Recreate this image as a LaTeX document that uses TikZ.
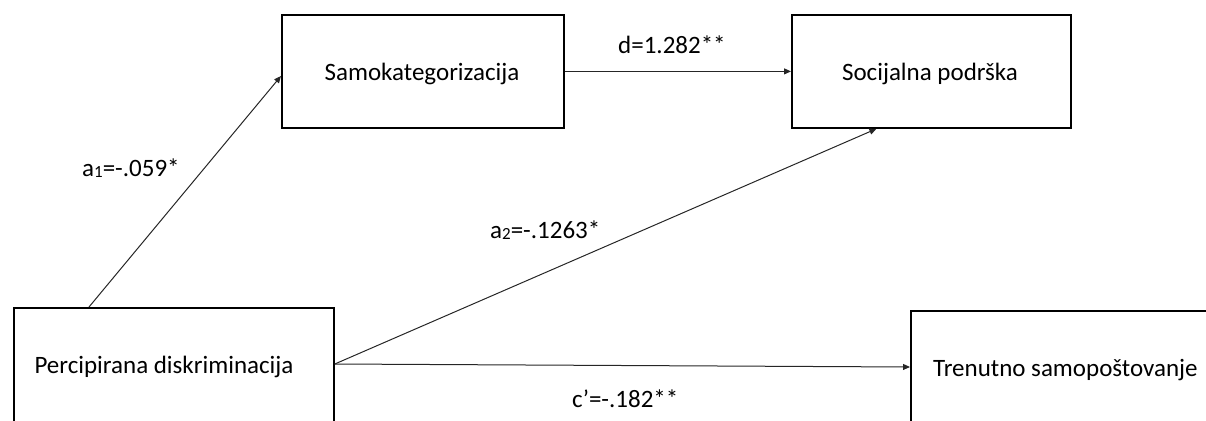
\documentclass[tikz,border=0pt]{standalone}
\usepackage{fontspec}
\setmainfont{Carlito}
\usetikzlibrary{arrows.meta,calc}
\begin{document}
\begin{tikzpicture}[x=1pt,y=-1pt,
  box/.style={draw=black, line width=1.8pt, rectangle, inner sep=0pt},
  txt/.style={anchor=base, inner sep=0pt, font=\fontsize{25}{30}\selectfont},
  lbl/.style={anchor=base west, inner sep=0pt, font=\fontsize{25}{30}\selectfont},
  conn/.style={draw=black!85, line width=1pt, -{Triangle[length=7pt,width=6pt]}}]
\useasboundingbox (0,0) rectangle (1206,420);
% boxes
\node[box, minimum width=282pt, minimum height=113pt, anchor=north west] (samok) at (281,14) {};
\node[box, minimum width=279pt, minimum height=113pt, anchor=north west] (soc) at (791,14) {};
\node[box, minimum width=320pt, minimum height=123pt, anchor=north west] (perc) at (13,307) {};
\node[box, minimum width=330pt, minimum height=120pt, anchor=north west] (trenut) at (910,310) {};
% box texts
\node[txt] (samokT) at (422,80) {Samokategorizacija};
\node[txt] (socT) at (930,80) {Socijalna podrška};
\node[txt] (percT) at (164,373) {Percipirana diskriminacija};
\node[txt, anchor=base west] (trenutT) at (933,376) {Trenutno samopoštovanje};
% connector labels
\newcommand{\mysub}[1]{\raisebox{-1.5pt}{\fontsize{17}{17}\selectfont #1}}
\node[lbl] (la1) at (82,176) {a\mysub{1}=-.059*};
\node[lbl] (ld) at (618,53) {d=1.282**};
\node[lbl] (la2) at (490,238) {a\mysub{2}=-.1263*};
\node[lbl] (lc) at (572,407) {c’=-.182**};
% connectors
\coordinate (ps) at ($(perc.north east)+(0,57)$);
\draw[conn] ($(perc.north west)+(76,0)$) -- ($(samok.north west)+(0,62)$);
\draw[conn] (samok.east) -- (soc.west);
\draw[conn] (ps) -- ($(soc.south)+(-55,0)$);
\draw[conn] (ps) -- ($(trenut.north west)+(0,57)$);
\end{tikzpicture}
\end{document}
